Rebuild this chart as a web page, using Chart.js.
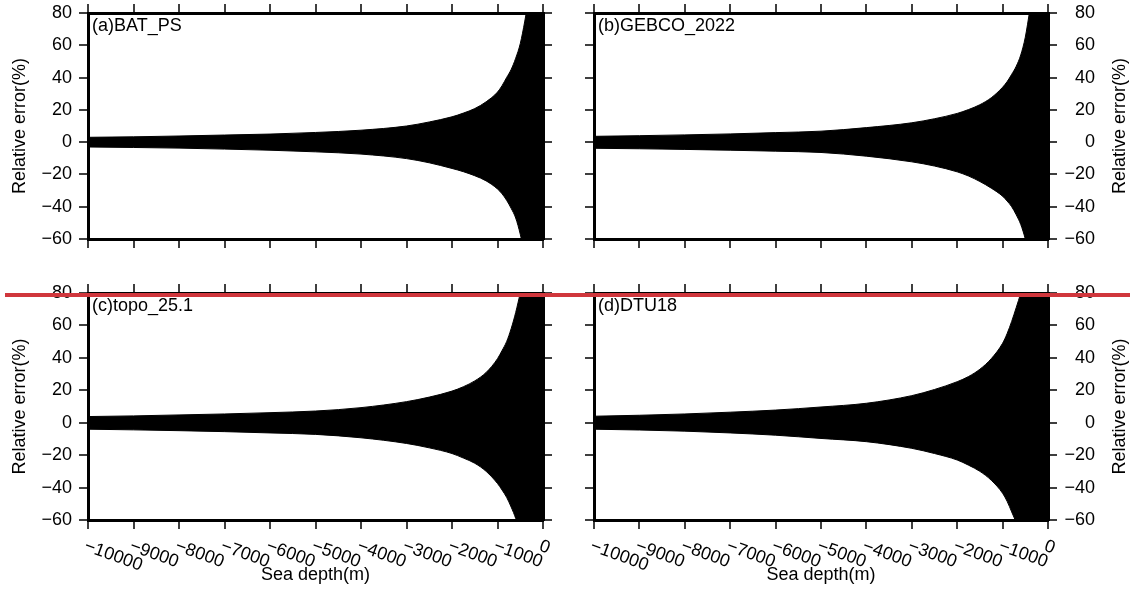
<!DOCTYPE html>
<html>
<head>
<meta charset="utf-8">
<script src="https://cdn.jsdelivr.net/npm/chart.js@4.4.1/dist/chart.umd.min.js"></script>
<style>
  html, body { margin: 0; padding: 0; background: #fff; }
  #wrap { position: relative; width: 1133px; height: 591px; overflow: hidden; }
  #wrap canvas { position: absolute; }
  #redline { position: absolute; left: 5px; top: 293px; width: 1125px; height: 4px; background: #d0363c; z-index: 5; }
</style>
</head>
<body>
<div id="wrap">
  <canvas id="pa" width="566" height="287" style="left:0;top:-17px"></canvas>
  <canvas id="pb" width="567" height="287" style="left:566px;top:-17px"></canvas>
  <canvas id="pc" width="566" height="328" style="left:0;top:263px"></canvas>
  <canvas id="pd" width="567" height="328" style="left:566px;top:263px"></canvas>
  <div id="redline"></div>
</div>
<script>
const depths = [-10000, -9000, -8000, -7000, -6000, -5000, -4000, -3000, -2500, -2000,
                -1750, -1500, -1250, -1000, -900, -800, -700, -600, -500, -400, -300, -200, 0];

const xTicks = [-10000, -9000, -8000, -7000, -6000, -5000, -4000, -3000, -2000, -1000, 0];
const xTickLabels = ["−10000", "−9000", "−8000", "−7000", "−6000", "−5000",
                     "−4000", "−3000", "−2000", "−1000", "0"];
const yTicks = [-60, -40, -20, 0, 20, 40, 60, 80];
const yTickLabels = ["−60", "−40", "−20", "0", "20", "40", "60", "80"];

// relative error envelope (%), upper / lower edge of the point cloud
const upperA = [3.0, 3.3, 3.8, 4.4, 5.0, 6.0, 7.4, 10.0, 12.5, 15.7, 18, 20.8, 25, 31, 35, 40, 45, 52, 61, 75, 92, 112, 140];
const lowerA = [-3.0, -3.3, -3.7, -4.3, -5.0, -6.0, -7.4, -10.2, -12.8, -16.3, -18.3, -20.8, -24, -29, -32, -36, -41, -47, -57, -70, -85, -100, -130];

const upperB = [3.6, 4.0, 4.5, 5.1, 5.9, 6.8, 9.0, 12.0, 14.5, 17.8, 20.2, 23.2, 27.5, 34, 37.5, 42, 47, 54, 65, 82, 100, 120, 150];
const lowerB = [-3.8, -4.1, -4.5, -5.0, -5.6, -6.4, -8.7, -12.2, -14.8, -18.4, -21, -24.4, -28.5, -33.5, -36.5, -40, -45, -51, -60, -72, -88, -105, -140];

const upperC = [3.8, 4.2, 4.8, 5.4, 6.2, 7.2, 9.3, 13.0, 15.8, 19.5, 22.2, 25.8, 31, 39.5, 44.5, 50, 58, 68, 80, 92, 105, 120, 150];
const lowerC = [-4.0, -4.4, -4.9, -5.5, -6.3, -7.2, -9.3, -12.8, -15.5, -19.0, -21.8, -25, -30, -37.5, -41.5, -46, -52, -59, -68, -80, -95, -110, -140];

const upperD = [4.0, 4.6, 5.4, 6.5, 7.8, 9.7, 12.0, 16.7, 20.5, 25.3, 28.5, 33, 39.5, 49, 55, 62.5, 71, 80, 90, 102, 115, 130, 160];
const lowerD = [-4.0, -4.5, -5.2, -6.3, -7.7, -9.7, -11.7, -15.8, -19.0, -23.0, -26.2, -30, -35.5, -43.5, -48.5, -55, -61.5, -68, -75, -85, -98, -110, -140];

const FONT = '"Liberation Sans", Arial, Helvetica, sans-serif';
Chart.defaults.font.family = FONT;
Chart.defaults.font.size = 18;
Chart.defaults.color = "#000";

const TICK = 9;

const panelText = {
  id: "panelText",
  afterDraw(chart, args, opts) {
    const { ctx, chartArea } = chart;
    const { left, right, top, bottom } = chartArea;
    const sc = chart.scales;

    // outward tick marks on all four sides
    ctx.save();
    ctx.strokeStyle = "#000";
    ctx.lineWidth = 1.5;
    ctx.beginPath();
    xTicks.forEach(v => {
      const px = Math.round(sc.x.getPixelForValue(v));
      ctx.moveTo(px, bottom); ctx.lineTo(px, bottom + TICK);
      ctx.moveTo(px, top); ctx.lineTo(px, top - TICK);
    });
    yTicks.forEach(v => {
      const py = Math.round(sc.y.getPixelForValue(v));
      ctx.moveTo(left, py); ctx.lineTo(left - TICK, py);
      ctx.moveTo(right, py); ctx.lineTo(right + TICK, py);
    });
    ctx.stroke();

    ctx.font = "18px " + FONT;
    ctx.fillStyle = "#000";
    ctx.textAlign = "left";
    ctx.textBaseline = "alphabetic";
    ctx.fillText(opts.label, left + 4, top + 18);

    if (opts.slantTicks) {
      ctx.textBaseline = "top";
      xTicks.forEach((v, i) => {
        ctx.save();
        ctx.translate(sc.x.getPixelForValue(v), bottom + 17);
        ctx.rotate(20 * Math.PI / 180);
        ctx.fillText(xTickLabels[i], 0, 0);
        ctx.restore();
      });
    }

    if (opts.rightTitle) {
      ctx.translate(chart.width - 13, (top + bottom) / 2);
      ctx.rotate(-Math.PI / 2);
      ctx.textAlign = "center";
      ctx.textBaseline = "middle";
      ctx.fillText("Relative error(%)", 0, 0);
    }
    ctx.restore();
  }
};

function edge(pos, min, max, ticks, size, showLabels) {
  return {
    type: "linear",
    position: pos,
    min, max,
    afterBuildTicks: s => { s.ticks = ticks.map(v => ({ value: v })); },
    afterFit: s => {
      if (pos === "top" || pos === "bottom") s.height = size;
      else s.width = size;
    },
    ticks: {
      display: showLabels,
      autoSkip: false,
      padding: 16,
      crossAlign: pos === "right" ? "far" : "near",
      callback: v => yTickLabels[yTicks.indexOf(v)],
      font: { size: 18 },
      color: "#000"
    },
    grid: { drawOnChartArea: false, drawTicks: false },
    border: { display: true, color: "#000", width: 3 }
  };
}

function makePanel(id, label, upper, lower, side, row) {
  const topH = 30;
  const bottomH = row === "top" ? 31 : 71;
  const leftW = side === "left" ? 88 : 28;
  const rightW = side === "left" ? 23 : 47;

  const x = edge("bottom", -10000, 0, xTicks, bottomH, false);
  if (row === "bottom") {
    x.title = { display: true, text: "Sea depth(m)", font: { size: 18 }, color: "#000", padding: { top: 0, bottom: 5 } };
  }
  const x2 = edge("top", -10000, 0, xTicks, topH, false);
  const y = edge("left", -60, 80, yTicks, leftW, side === "left");
  if (side === "left") {
    y.title = { display: true, text: "Relative error(%)", font: { size: 18 }, color: "#000", padding: { top: 9, bottom: 0 } };
  }
  const y2 = edge("right", -60, 80, yTicks, rightW, side === "right");

  new Chart(document.getElementById(id), {
    type: "line",
    data: {
      datasets: [
        {
          data: depths.map((d, i) => ({ x: d, y: upper[i] })),
          borderColor: "#000",
          borderWidth: 1,
          backgroundColor: "#000",
          pointRadius: 0,
          cubicInterpolationMode: "monotone",
          fill: "+1"
        },
        {
          data: depths.map((d, i) => ({ x: d, y: lower[i] })),
          borderColor: "#000",
          borderWidth: 1,
          backgroundColor: "#000",
          pointRadius: 0,
          cubicInterpolationMode: "monotone",
          fill: false
        }
      ]
    },
    options: {
      responsive: false,
      animation: false,
      devicePixelRatio: 1,
      layout: { padding: { left: 0, top: 0, bottom: 0, right: side === "right" ? 38 : 0 } },
      scales: { x, x2, y, y2 },
      plugins: {
        legend: { display: false },
        tooltip: { enabled: false },
        panelText: { label, slantTicks: row === "bottom", rightTitle: side === "right" }
      }
    },
    plugins: [panelText]
  });
}

makePanel("pa", "(a)BAT_PS", upperA, lowerA, "left", "top");
makePanel("pb", "(b)GEBCO_2022", upperB, lowerB, "right", "top");
makePanel("pc", "(c)topo_25.1", upperC, lowerC, "left", "bottom");
makePanel("pd", "(d)DTU18", upperD, lowerD, "right", "bottom");
</script>
</body>
</html>
